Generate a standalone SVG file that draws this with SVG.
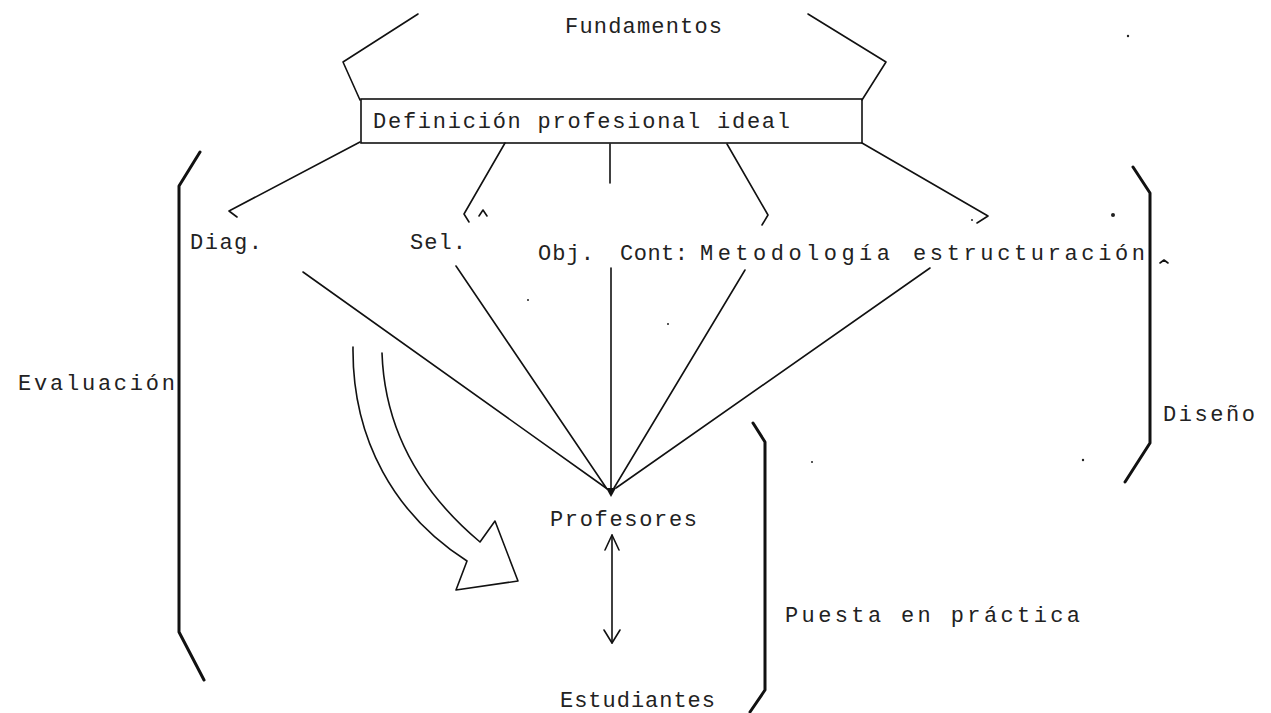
<svg xmlns="http://www.w3.org/2000/svg" width="1271" height="713" viewBox="0 0 1271 713">
  <style>
    .lbl { font-family: "Liberation Mono", "DejaVu Sans Mono", monospace; font-size: 22px; fill: #222; }
    .ln { fill: none; stroke: #111; stroke-width: 1.6; stroke-linecap: round; stroke-linejoin: round; }
    .br { fill: none; stroke: #111; stroke-width: 3; stroke-linecap: round; stroke-linejoin: round; }
    .speck { fill: #222; }
  </style>
  <rect width="1271" height="713" fill="#fff"/>

  <!-- brackets -->
  <g id="bracket-fundamentos">
    <path class="ln" d="M418,14 L343,62 L360,100"/>
    <path class="ln" d="M808,14 L886,62 L862,100"/>
    <text class="lbl" x="565" y="33" textLength="157" lengthAdjust="spacing">Fundamentos</text>
  </g>
  <g id="bracket-evaluacion">
    <path class="br" d="M200,152 L179,186 L179,632 L204,680"/>
    <text class="lbl" x="18" y="390" textLength="157" lengthAdjust="spacing">Evaluación</text>
  </g>
  <g id="bracket-diseno">
    <path class="br" d="M1133,167 L1150,193 L1150,443 L1125,482"/>
    <text class="lbl" x="1163" y="421" textLength="92" lengthAdjust="spacing">Diseño</text>
  </g>
  <g id="bracket-puesta">
    <path class="br" d="M753,423 L765,442 L765,690 L750,712"/>
    <text class="lbl" x="785" y="622" textLength="295" lengthAdjust="spacing">Puesta en práctica</text>
  </g>

  <!-- nodes -->
  <g id="node-definicion">
    <rect x="361" y="99" width="501" height="44" fill="none" stroke="#111" stroke-width="1.6"/>
    <text class="lbl" x="373" y="128" textLength="417" lengthAdjust="spacing">Definición profesional ideal</text>
  </g>
  <g id="node-diag">
    <text class="lbl" x="190" y="249" textLength="72" lengthAdjust="spacing">Diag.</text>
  </g>
  <g id="node-sel">
    <text class="lbl" x="410" y="249" textLength="56" lengthAdjust="spacing">Sel.</text>
  </g>
  <g id="node-obj-cont">
    <text class="lbl" x="538" y="260" textLength="56" lengthAdjust="spacing">Obj.</text>
    <text class="lbl" x="620" y="260" textLength="68" lengthAdjust="spacing">Cont:</text>
    <text class="lbl" x="700" y="260" textLength="190" lengthAdjust="spacing">Metodología</text>
    <text class="lbl" x="913" y="260" textLength="232" lengthAdjust="spacing">estructuración</text>
  </g>
  <g id="node-profesores">
    <text class="lbl" x="550" y="526" textLength="147" lengthAdjust="spacing">Profesores</text>
  </g>
  <g id="node-estudiantes">
    <text class="lbl" x="560" y="707" textLength="155" lengthAdjust="spacing">Estudiantes</text>
  </g>

  <!-- connectors -->
  <g id="connectors">
    <!-- from the definition box to the components, each with a hand-drawn hook -->
    <path class="ln" d="M360,142 L229,211 L237,217"/>
    <path class="ln" d="M505,143 L464,214 L469,222"/>
    <path class="ln" d="M610,144 L610,183"/>
    <path class="ln" d="M727,144 L768,215 L762,225"/>
    <path class="ln" d="M862,143 L988,216 L977,223"/>
    <!-- from the components converging on Profesores -->
    <path class="ln" d="M303,272 L606,488"/>
    <path class="ln" d="M456,266 L607,489"/>
    <path class="ln" d="M611,268 L611,492"/>
    <path class="ln" d="M745,270 L614,488"/>
    <path class="ln" d="M930,268 L616,488"/>
    <polygon points="606,488 616,488 611,497" fill="#111"/>
    <!-- two-way arrow Profesores / Estudiantes -->
    <path class="ln" d="M612,535 L612,643"/>
    <path class="ln" d="M605,550 L612,535 L619,550"/>
    <path class="ln" d="M604,630 L612,643 L620,630"/>
    <!-- hollow curved arrow -->
    <path class="ln" d="M353,347 C352,440 395,515 467,561 L456,590 L518,581 L495,521 L480,542 C430,500 385,440 382,353"/>
  </g>

  <!-- stray marks -->
  <g id="specks">
    <circle class="speck" cx="1128" cy="36" r="1.2"/>
    <circle class="speck" cx="1113" cy="215" r="2"/>
    <path class="ln" d="M479,216 L483,210 L487,216"/>
    <path class="ln" d="M1160,263 L1164,260 L1168,263"/>
    <circle class="speck" cx="528" cy="300" r="1"/>
    <circle class="speck" cx="668" cy="324" r="1"/>
    <circle class="speck" cx="1083" cy="460" r="1.2"/>
    <circle class="speck" cx="812" cy="462" r="1"/>
    <circle class="speck" cx="972" cy="220" r="1"/>
  </g>
</svg>
